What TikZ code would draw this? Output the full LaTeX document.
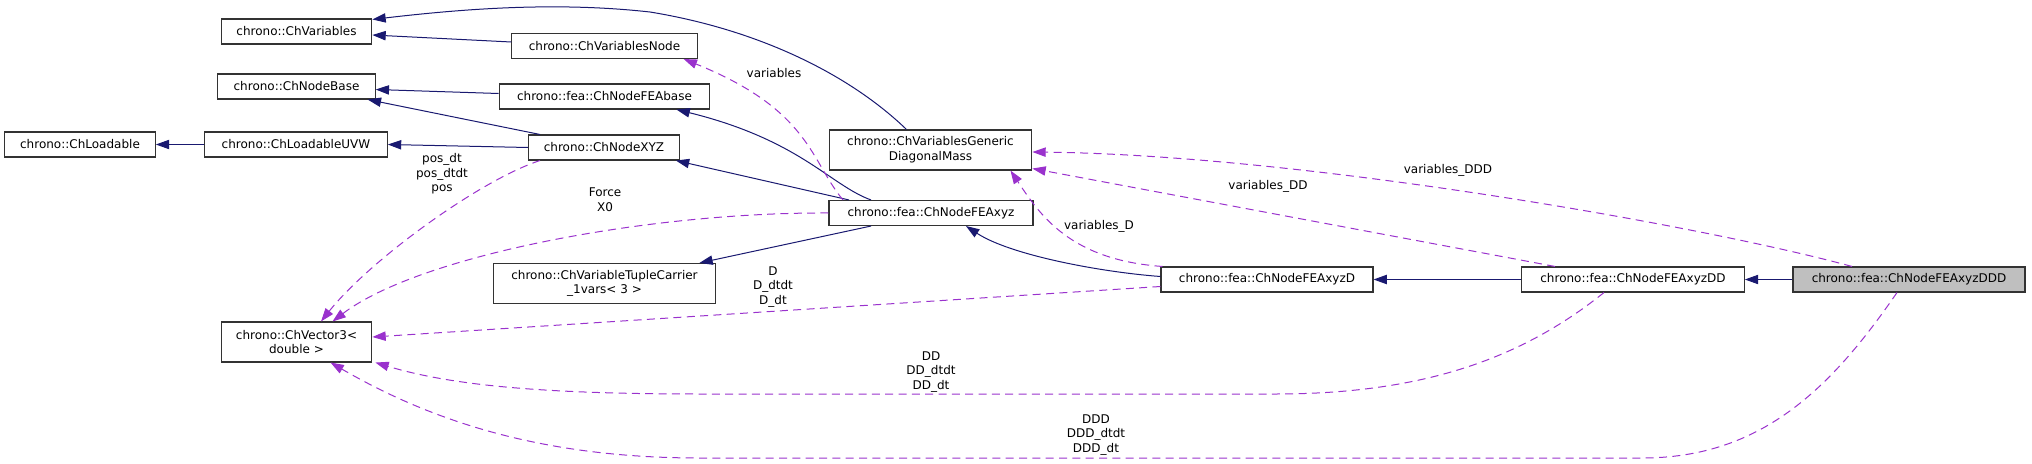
\documentclass[tikz,border=0pt]{standalone}
\usepackage{fontspec}
\setmainfont{DejaVu Sans}
\usepackage{xcolor}
\usetikzlibrary{shapes,arrows,positioning,fit,calc,arrows.meta}
\definecolor{midnight}{HTML}{191970}
\definecolor{orchid}{HTML}{9A32CD}

\begin{document}
\begin{tikzpicture}[x=0.75pt, y=-0.75pt,
    cls/.style={draw=black!80, line width=0.8pt, fill=white, minimum height=18.75pt, inner sep=2pt, align=center, font=\fontsize{9}{11}\selectfont},
    cls2/.style={cls, minimum height=30pt},
    lbl/.style={align=center, inner sep=0pt, font=\fontsize{9}{11}\selectfont},
    inhedge/.style={-{Triangle[length=10pt,width=7pt]}, draw=midnight, line width=0.75pt},
    usedge/.style={-{Triangle[length=10pt,width=7pt]}, draw=orchid, line width=0.75pt, dash pattern=on 6pt off 4pt}
]
\useasboundingbox (0,0) rectangle (2032,464);

\node[cls, minimum width=113pt] (load) at (80,144.5) {chrono::ChLoadable};
\node[cls, minimum width=113pt] (var) at (296.5,31.5) {chrono::ChVariables};
\node[cls, minimum width=118pt] (nbase) at (296.5,86.5) {chrono::ChNodeBase};
\node[cls, minimum width=137pt] (loaduvw) at (296,144.5) {chrono::ChLoadableUVW};
\node[cls2, minimum width=113pt] (vec) at (296.5,342) {chrono::ChVector3<\\double >};
\node[cls, minimum width=139pt] (varnode) at (604.5,46) {chrono::ChVariablesNode};
\node[cls, minimum width=158pt] (feabase) at (604.5,96.5) {chrono::fea::ChNodeFEAbase};
\node[cls, minimum width=113pt] (xyz) at (604,147.5) {chrono::ChNodeXYZ};
\node[cls2, minimum width=167pt] (tuple) at (604.5,283.5) {chrono::ChVariableTupleCarrier\\\_1vars< 3 >};
\node[cls2, minimum width=152pt] (gdm) at (930.5,150) {chrono::ChVariablesGeneric\\DiagonalMass};
\node[cls, minimum width=153pt] (fxyz) at (931,213) {chrono::fea::ChNodeFEAxyz};
\node[cls, minimum width=159pt] (fxyzd) at (1267,279.5) {chrono::fea::ChNodeFEAxyzD};
\node[cls, minimum width=167pt] (fxyzdd) at (1633,279.5) {chrono::fea::ChNodeFEAxyzDD};
\node[cls, minimum width=174pt, fill=black!25] (fxyzddd) at (1909,279.5) {chrono::fea::ChNodeFEAxyzDDD};

\draw[inhedge] ($(varnode.west)+(0,-4)$) -- ($(var.east)+(0,3.5)$);
\draw[inhedge] ($(gdm.north)+(-24,0)$) .. controls (850,75) and (760,30) .. (650,12) .. controls (560,2) and (470,8) .. ($(var.north east)+(0,1)$);
\draw[inhedge] ($(feabase.west)+(0,-3)$) -- ($(nbase.east)+(0,3)$);
\draw[inhedge] ($(xyz.north)+(-64,0)$) -- ($(nbase.south east)+(-8,0)$);
\draw[inhedge] (loaduvw.west) -- (load.east);
\draw[inhedge] (xyz.west) -- (loaduvw.east);
\draw[inhedge] ($(fxyz.north)+(-60,0)$) .. controls (830,185) and (800,140) .. ($(feabase.south)+(72,0)$);
\draw[inhedge] ($(fxyz.north)+(-82,0)$) -- ($(xyz.south east)+(-4,0)$);
\draw[inhedge] ($(fxyz.south)+(-60,0)$) -- ($(tuple.north east)+(-17,0)$);
\draw[inhedge] ($(fxyzd.west)+(0,-3)$) .. controls (1100,272) and (1010,255) .. ($(fxyz.south)+(35,0)$);
\draw[inhedge] (fxyzdd.west) -- (fxyzd.east);
\draw[inhedge] (fxyzddd.west) -- (fxyzdd.east);

\draw[usedge] ($(fxyz.north)+(-88,0)$) .. controls (810,160) and (810,110) .. ($(varnode.south east)+(-14,0)$);
\draw[usedge] ($(xyz.south)+(-64,0)$) .. controls (480,180) and (370,260) .. ($(vec.north)+(24.5,0)$);
\draw[usedge] (fxyz.west) .. controls (650,212) and (420,255) .. ($(vec.north)+(36,0)$);
\draw[usedge] ($(fxyzd.north west)+(2,0)$) .. controls (1070,260) and (1040,215) .. ($(gdm.south)+(80,0)$);
\draw[usedge] ($(fxyzdd.north)+(-78,0)$) -- ($(gdm.south east)+(0,-2)$);
\draw[usedge] ($(fxyzddd.north)+(-57,0)$) .. controls (1700,225) and (1300,155) .. ($(gdm.east)+(0,2)$);
\draw[usedge] ($(fxyzd.west)+(0,7)$) -- ($(vec.east)+(0,-5)$);
\draw[usedge] ($(fxyzdd.south)+(-29,0)$) .. controls (1520,360) and (1420,394) .. (1275,394) -- (700,394) .. controls (540,394) and (450,385) .. ($(vec.south east)+(3,0)$);
\draw[usedge] ($(fxyzddd.south)+(-12,0)$) .. controls (1830,390) and (1760,458) .. (1642,458) -- (700,458) .. controls (540,458) and (430,420) .. ($(vec.south)+(34,0)$);

\node[lbl] (lvars) at (774,73) {variables};
\node[lbl] (lpos) at (442,174) {pos\_dt\\pos\_dtdt\\pos};
\node[lbl] (lforce) at (605,200) {Force\\X0};
\node[lbl] (lvarsd) at (1099,226) {variables\_D};
\node[lbl] (lvarsdd) at (1268,186) {variables\_DD};
\node[lbl] (lvarsddd) at (1448,170) {variables\_DDD};
\node[lbl] (ld) at (773,287) {D\\D\_dtdt\\D\_dt};
\node[lbl] (ldd) at (931,372) {DD\\DD\_dtdt\\DD\_dt};
\node[lbl] (lddd) at (1096,435) {DDD\\DDD\_dtdt\\DDD\_dt};
\end{tikzpicture}
\end{document}
